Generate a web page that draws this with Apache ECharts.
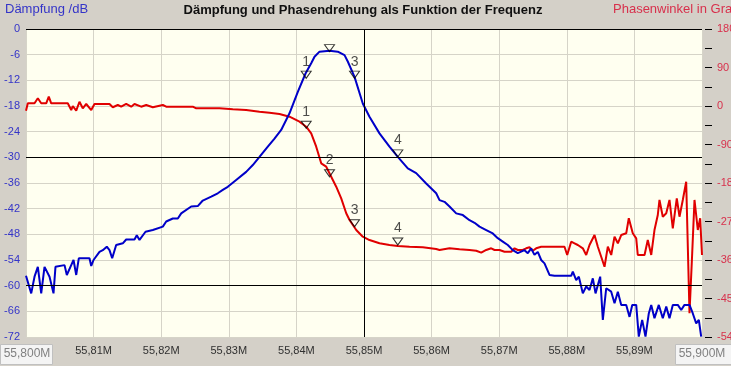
<!DOCTYPE html>
<html><head><meta charset="utf-8">
<script src="https://cdn.jsdelivr.net/npm/echarts@6/dist/echarts.min.js"></script>
<style>html,body{margin:0;padding:0;background:#d4d0c8;overflow:hidden}#c{width:731px;height:366px}</style>
</head><body><div id="c"></div>
<script>
// Attenuation (dB) vs frequency (MHz)
const attenuation = [
[55.80000,-57.7],[55.80027,-57.7],[55.80077,-61.8],[55.80126,-57.9],[55.80175,-55.6],[55.80225,-61.8],[55.80274,-55.6],[55.80348,-57.9],[55.80407,-61.8],[55.80436,-55.6],
[55.80570,-55.2],[55.80604,-57.5],[55.80669,-55.2],[55.80703,-54.0],[55.80743,-57.5],[55.80781,-53.6],[55.80939,-53.6],[55.80965,-55.4],[55.80999,-54.0],[55.81087,-52.1],
[55.81136,-51.7],[55.81195,-50.9],[55.81235,-51.7],[55.81275,-53.6],[55.81334,-50.5],[55.81432,-50.1],[55.81482,-49.2],[55.81605,-49.2],[55.81639,-48.2],[55.81679,-49.3],
[55.81768,-47.4],[55.81876,-47.0],[55.82024,-46.2],[55.82074,-45.0],[55.82172,-44.3],[55.82246,-44.3],[55.82296,-43.1],[55.82444,-41.5],[55.82541,-41.4],[55.82615,-40.1],
[55.82740,-39.2],[55.82837,-38.4],[55.82911,-37.6],[55.82985,-36.9],[55.83109,-35.3],[55.83257,-33.4],[55.83355,-31.8],[55.83454,-29.9],[55.83577,-27.5],[55.83676,-25.6],
[55.83775,-23.6],[55.83898,-19.7],[55.84021,-14.7],[55.84135,-10.4],[55.84219,-8.0],[55.84268,-6.5],[55.84342,-5.3],[55.84490,-5.1],[55.84612,-5.3],[55.84712,-6.1],
[55.84760,-7.6],[55.84860,-11.2],[55.84982,-17.4],[55.85081,-20.5],[55.85229,-24.4],[55.85377,-27.5],[55.85500,-29.9],[55.85648,-32.6],[55.85772,-33.7],[55.85920,-36.1],
[55.86068,-38.4],[55.86117,-40.0],[55.86191,-40.4],[55.86265,-41.5],[55.86364,-43.1],[55.86462,-43.5],[55.86561,-44.7],[55.86635,-45.3],[55.86709,-46.2],[55.86808,-47.0],
[55.86905,-47.8],[55.86979,-48.9],[55.87053,-49.7],[55.87127,-50.5],[55.87201,-51.7],[55.87275,-52.4],[55.87374,-51.7],[55.87423,-52.4],[55.87473,-51.3],[55.87522,-52.8],
[55.87571,-52.1],[55.87621,-54.0],[55.87670,-54.8],[55.87744,-57.5],[55.87818,-57.7],[55.88065,-57.7],[55.88089,-56.7],[55.88139,-58.7],[55.88178,-57.9],[55.88237,-61.8],
[55.88287,-60.2],[55.88336,-61.0],[55.88385,-58.3],[55.88425,-61.8],[55.88494,-57.9],[55.88533,-68.0],[55.88583,-60.6],[55.88657,-61.4],[55.88706,-64.1],[55.88755,-61.4],
[55.88805,-64.5],[55.88879,-64.5],[55.88928,-67.3],[55.88968,-64.5],[55.89027,-64.5],[55.89065,-71.9],[55.89115,-68.0],[55.89164,-71.9],[55.89213,-66.5],[55.89249,-64.5],
[55.89297,-67.6],[55.89361,-64.5],[55.89420,-67.6],[55.89471,-64.9],[55.89519,-67.6],[55.89568,-64.5],[55.89642,-64.5],[55.89692,-65.7],[55.89741,-64.5],[55.89815,-64.5],
[55.89864,-66.5],[55.89914,-68.8],[55.89953,-68.0],[55.89988,-71.9]
];
// Phase angle (degrees) vs frequency (MHz)
const phase = [
[55.80000,-11.0],[55.80027,6.3],[55.80126,6.3],[55.80175,18.0],[55.80225,6.3],[55.80299,6.3],[55.80337,21.7],[55.80373,6.3],[55.80618,6.3],[55.80669,-9.4],
[55.80692,0.0],[55.80743,-11.0],[55.80791,10.0],[55.80840,-5.4],[55.80891,4.7],[55.80965,-9.4],[55.81013,4.7],[55.81235,4.7],[55.81284,-3.0],[55.81358,2.3],
[55.81408,-1.6],[55.81482,4.7],[55.81556,-1.6],[55.81605,4.7],[55.81704,-1.6],[55.81778,2.3],[55.81876,-3.0],[55.82024,2.3],[55.82074,-1.6],[55.82467,-1.6],
[55.82518,-5.4],[55.82862,-5.4],[55.83059,-7.7],[55.83257,-9.4],[55.83454,-13.3],[55.83602,-15.7],[55.83750,-18.7],[55.83898,-25.0],[55.84046,-36.7],[55.84145,-48.4],
[55.84219,-63.8],[55.84293,-95.1],[55.84367,-134.0],[55.84441,-141.9],[55.84515,-165.3],[55.84589,-188.7],[55.84663,-215.8],[55.84737,-250.8],[55.84786,-266.5],[55.84885,-289.9],
[55.84982,-305.5],[55.85081,-313.3],[55.85229,-321.0],[55.85377,-324.9],[55.85500,-327.3],[55.85673,-328.9],[55.85870,-330.3],[55.86068,-334.3],[55.86117,-336.6],[55.86265,-332.7],
[55.86413,-335.0],[55.86561,-336.6],[55.86660,-338.3],[55.86734,-342.9],[55.86808,-336.6],[55.86882,-332.7],[55.86931,-336.6],[55.87005,-336.6],[55.87078,-340.6],[55.87178,-340.6],
[55.87227,-332.7],[55.87275,-336.6],[55.87349,-336.6],[55.87399,-332.7],[55.87448,-330.3],[55.87497,-338.3],[55.87547,-332.7],[55.87621,-328.9],[55.87966,-328.9],[55.88006,-348.3],
[55.88065,-317.2],[55.88114,-321.0],[55.88163,-324.9],[55.88237,-332.7],[55.88287,-348.3],[55.88336,-324.9],[55.88410,-301.6],[55.88459,-328.9],[55.88509,-352.3],[55.88558,-375.7],
[55.88607,-328.9],[55.88657,-348.3],[55.88706,-305.5],[55.88755,-321.0],[55.88805,-301.6],[55.88879,-297.6],[55.88917,-262.5],[55.88976,-297.6],[55.89027,-309.3],[55.89050,-348.3],
[55.89150,-348.3],[55.89198,-313.3],[55.89249,-348.3],[55.89297,-289.9],[55.89346,-254.8],[55.89371,-219.7],[55.89420,-258.8],[55.89471,-250.8],[55.89519,-219.7],[55.89568,-285.9],
[55.89627,-215.8],[55.89667,-258.8],[55.89716,-219.7],[55.89766,-177.0],[55.89790,-173.0],[55.89815,-484.6],[55.89855,-344.3],[55.89889,-219.7],[55.89938,-289.9],[55.89973,-262.5],
[55.90000,-348.3]
];
// Markers: [frequency, value, label]
const attenuationMarkers = [[55.84145,-11.5,'1'],[55.84490,-5.3,''],[55.84860,-11.5,'3'],[55.85500,-29.9,'4']];
const phaseMarkers = [[55.84145,-52.1,'1'],[55.84490,-165.3,'2'],[55.84860,-282.2,'3'],[55.85500,-325.0,'4']];
// Axis settings
const freqMin = 55.80, freqMax = 55.90, freqStep = 0.01;
const dbMin = -72, dbMax = 0, dbStep = 6;
const degMin = -540, degMax = 180, degStep = 90;
const refLinesDb = [-30, -60, 0];
const refLineFreq = 55.85;

const FONT = 'Arial, "Liberation Sans", sans-serif';
const chart = echarts.init(document.getElementById('c'), null, {renderer: 'canvas'});
const triPath = 'path://M0,0 L10,0 L5,8 Z';
function markerSeries(data, yIdx) {
  return {
    type: 'scatter', yAxisIndex: yIdx, data: data, z: 5, silent: true,
    symbol: triPath, symbolSize: [10, 7], symbolOffset: [0, -3.5],
    itemStyle: {color: 'rgba(0,0,0,0)', borderColor: '#000', borderWidth: 1},
    label: {show: true, position: 'top', distance: 2, formatter: p => p.data[2],
            color: '#202020', fontSize: 14, fontFamily: FONT}
  };
}
chart.setOption({
  backgroundColor: '#d4d0c8',
  animation: false,
  textStyle: {fontFamily: FONT},
  grid: {left: 26, top: 29, width: 676, height: 308, show: true, containLabel: false,
         outerBoundsMode: 'none',
         backgroundColor: '#fffff0', borderWidth: 0},
  xAxis: {
    type: 'value', min: freqMin, max: freqMax, interval: freqStep,
    axisLine: {show: false}, axisTick: {show: false},
    axisLabel: {showMinLabel: false, showMaxLabel: false, margin: 8, color: '#303030', fontSize: 11,
      formatter: v => v.toFixed(2).replace('.', ',') + 'M'},
    splitLine: {show: true, lineStyle: {color: '#d6d4c8', width: 1}}
  },
  yAxis: [{
    type: 'value', min: dbMin, max: dbMax, interval: dbStep, position: 'left',
    axisLine: {show: false}, axisTick: {show: false},
    axisLabel: {color: '#3434c8', fontSize: 11, margin: 6},
    splitLine: {show: true, lineStyle: {color: '#d6d4c8', width: 1}}
  }, {
    type: 'value', min: degMin, max: degMax, interval: degStep, position: 'right', offset: 3,
    axisLine: {show: false},
    axisTick: {show: true, length: 7, lineStyle: {color: '#000'}},
    minorTick: {show: true, splitNumber: 2, length: 7, lineStyle: {color: '#000'}},
    axisLabel: {color: '#d8304c', fontSize: 11, margin: 12},
    splitLine: {show: false}
  }],
  series: [
    {type: 'line', data: [], z: 1, silent: true,
     markLine: {silent: true, symbol: ['none', 'none'], label: {show: false}, animation: false,
       lineStyle: {color: '#000', width: 1, type: 'solid'},
       emphasis: {disabled: true},
       data: refLinesDb.map(v => ({yAxis: v})).concat([{xAxis: refLineFreq}])}},
    {type: 'line', yAxisIndex: 1, data: phase, showSymbol: false, z: 2, silent: true,
     lineStyle: {color: '#e00000', width: 2}},
    {type: 'line', yAxisIndex: 0, data: attenuation, showSymbol: false, z: 3, silent: true,
     lineStyle: {color: '#0000c8', width: 2}},
    markerSeries(attenuationMarkers, 0),
    markerSeries(phaseMarkers, 1)
  ],
  graphic: [
    {type: 'text', left: 5, top: 3, style: {text: 'Dämpfung /dB', fill: '#3434c8', font: '13px ' + FONT}},
    {type: 'text', x: 363, y: 4, style: {text: 'Dämpfung und Phasendrehung als Funktion der Frequenz', fill: '#101010', font: 'bold 13px ' + FONT, align: 'center'}},
    {type: 'text', x: 613, y: 3, style: {text: 'Phasenwinkel in Grad', fill: '#d8304c', font: '13px ' + FONT}},
    {type: 'rect', shape: {x: 0.5, y: 344.5, width: 52, height: 20}, style: {fill: '#f4f4f4', stroke: '#c0c0c0', lineWidth: 1}},
    {type: 'text', x: 27, y: 348, style: {text: '55,800M', fill: '#808080', font: '12px ' + FONT, align: 'center'}},
    {type: 'rect', shape: {x: 675.5, y: 344.5, width: 56, height: 20}, style: {fill: '#f4f4f4', stroke: '#c0c0c0', lineWidth: 1}},
    {type: 'text', x: 702, y: 348, style: {text: '55,900M', fill: '#808080', font: '12px ' + FONT, align: 'center'}}
  ]
});
</script></body></html>
